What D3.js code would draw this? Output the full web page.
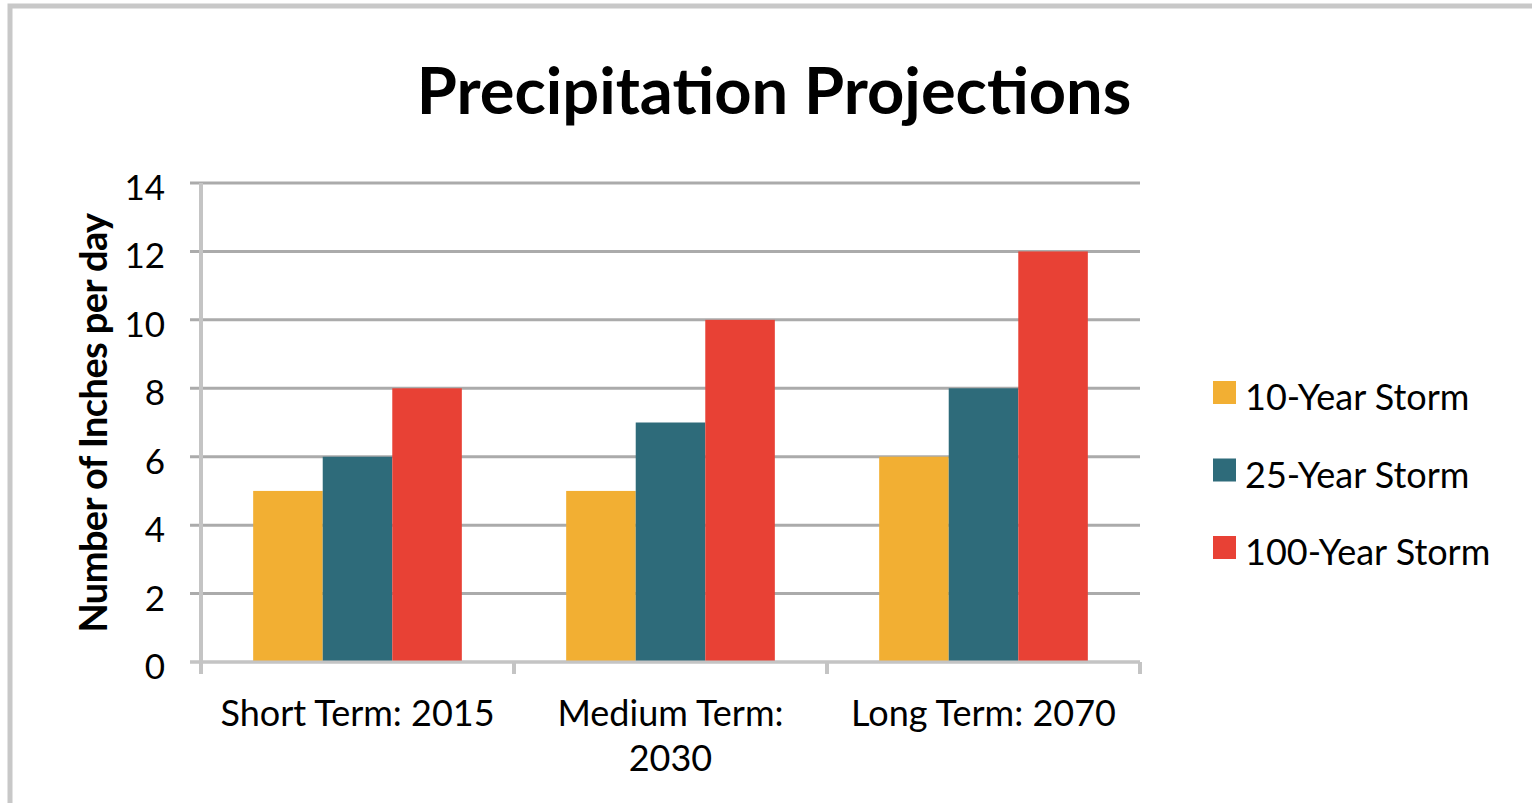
<!DOCTYPE html>
<html>
<head>
<meta charset="utf-8">
<script src="https://cdn.jsdelivr.net/npm/d3@7"></script>
<style>
  body { margin: 0; background: #fff; }
  svg text { font-family: Lato, "Open Sans", sans-serif; fill: #000; }
</style>
</head>
<body>
<svg id="chart" width="1532" height="803"></svg>
<script>
// data
var categories = ["Short Term: 2015", "Medium Term: 2030", "Long Term: 2070"];
var categoryLines = [["Short Term: 2015"], ["Medium Term:", "2030"], ["Long Term: 2070"]];
var seriesNames = ["10-Year Storm", "25-Year Storm", "100-Year Storm"];
var storm10 = [5, 5, 6];
var storm25 = [6, 7, 8];
var storm100 = [8, 10, 12];
var yTicks = [0, 2, 4, 6, 8, 10, 12, 14];
var colors = ["#F2AF33", "#2E6B7A", "#E84135"];

var seriesValues = [storm10, storm25, storm100];

var svg = d3.select("#chart");

// outer frame
svg.append("rect")
    .attr("x", 10).attr("y", 6)
    .attr("width", 1540).attr("height", 820)
    .attr("fill", "none")
    .attr("stroke", "#c8c8c8")
    .attr("stroke-width", 5);

var plot = {left: 201, right: 1140, top: 183, bottom: 662};

var x0 = d3.scaleBand().domain(categories).range([plot.left, plot.right]);
var x1 = d3.scaleBand().domain(seriesNames).range([0, x0.bandwidth()]).paddingOuter(0.75);
var y = d3.scaleLinear().domain([0, 14]).range([plot.bottom, plot.top]);

// gridlines
svg.append("g").selectAll("line").data(yTicks).enter().append("line")
    .attr("x1", plot.left - 11).attr("x2", plot.right)
    .attr("y1", function (d) { return y(d); })
    .attr("y2", function (d) { return y(d); })
    .attr("stroke", function (d) { return d === 0 ? "#c4c4c4" : "#ababab"; })
    .attr("stroke-width", 3);

// bars
var groups = svg.append("g").selectAll("g").data(categories).enter().append("g")
    .attr("transform", function (d) { return "translate(" + x0(d) + ",0)"; });

groups.selectAll("rect")
    .data(function (d, i) {
        return seriesNames.map(function (s, j) { return {s: s, v: seriesValues[j][i], c: colors[j]}; });
    })
    .enter().append("rect")
    .attr("x", function (d) { return x1(d.s); })
    .attr("width", x1.bandwidth())
    .attr("y", function (d) { return y(d.v); })
    .attr("height", function (d) { return plot.bottom - y(d.v); })
    .attr("fill", function (d) { return d.c; });

// baseline over bars
svg.append("line")
    .attr("x1", plot.left - 11).attr("x2", plot.right)
    .attr("y1", plot.bottom).attr("y2", plot.bottom)
    .attr("stroke", "#c4c4c4").attr("stroke-width", 3);

// vertical axis line
svg.append("line")
    .attr("x1", plot.left).attr("x2", plot.left)
    .attr("y1", plot.top).attr("y2", plot.bottom + 12)
    .attr("stroke", "#c4c4c4").attr("stroke-width", 4);

// category separator ticks
svg.append("g").selectAll("line").data(categories.slice(1).concat(["end"])).enter().append("line")
    .attr("x1", function (d, i) { return plot.left + x0.step() * (i + 1); })
    .attr("x2", function (d, i) { return plot.left + x0.step() * (i + 1); })
    .attr("y1", plot.bottom).attr("y2", plot.bottom + 12)
    .attr("stroke", "#c4c4c4").attr("stroke-width", 4);

// y tick labels
svg.append("g").selectAll("text").data(yTicks).enter().append("text")
    .attr("x", 165)
    .attr("y", function (d) { return y(d) + 17; })
    .attr("text-anchor", "end")
    .style("font-size", "35px")
    .text(function (d) { return d; });

// x labels
var xl = svg.append("g").selectAll("text").data(categories).enter().append("text")
    .attr("text-anchor", "middle")
    .style("font-size", "36px")
    .attr("transform", function (d) { return "translate(" + (x0(d) + x0.bandwidth() / 2) + ",726)"; });
xl.selectAll("tspan")
    .data(function (d, i) { return categoryLines[i]; })
    .enter().append("tspan")
    .attr("x", 0)
    .attr("dy", function (d, i) { return i === 0 ? 0 : 45; })
    .text(function (d) { return d; });

// y axis title
svg.append("text")
    .attr("transform", "translate(107,423) rotate(-90)")
    .attr("text-anchor", "middle")
    .style("font-size", "38px")
    .style("letter-spacing", "-0.6px")
    .style("font-weight", "bold")
    .text("Number of Inches per day");

// title
svg.append("text")
    .attr("x", 774).attr("y", 114)
    .attr("text-anchor", "middle")
    .style("font-size", "65px")
    .style("font-weight", "bold")
    .text("Precipitation Projections");

// legend
var legend = svg.append("g").selectAll("g").data(seriesNames).enter().append("g")
    .attr("transform", function (d, i) { return "translate(1213," + (381 + i * 77.5) + ")"; });
legend.append("rect")
    .attr("width", 23).attr("height", 23)
    .attr("fill", function (d, i) { return colors[i]; });
legend.append("text")
    .attr("x", 32).attr("y", 29)
    .style("font-size", "36px")
    .text(function (d) { return d; });
</script>
</body>
</html>
